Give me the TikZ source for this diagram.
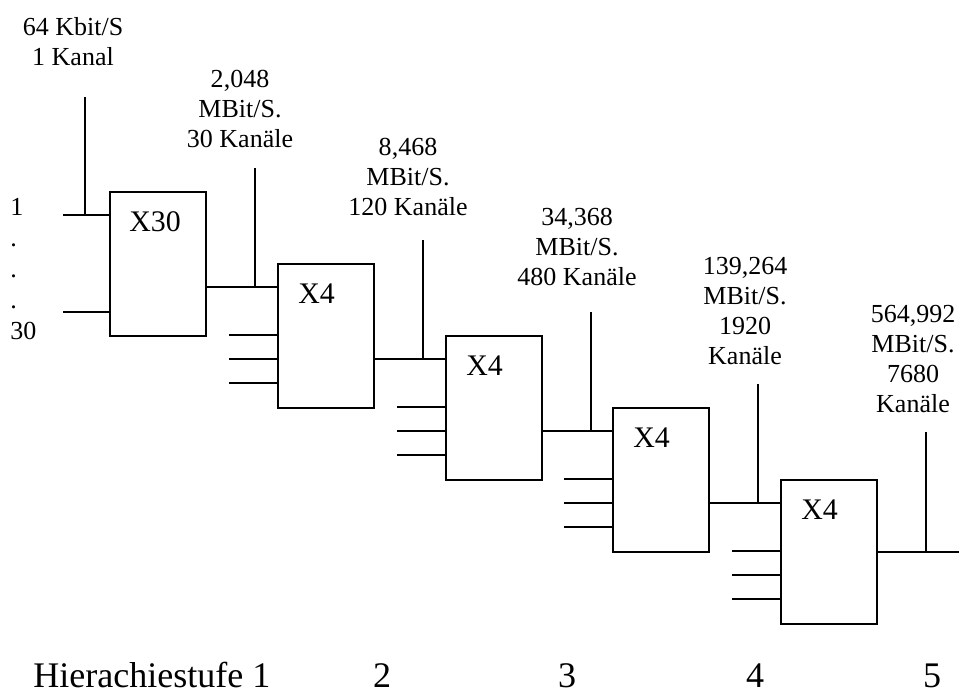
\documentclass[tikz,border=0pt]{standalone}
\usepackage{fontspec}
\setmainfont{Liberation Serif}
\usetikzlibrary{positioning}

\begin{document}
\begin{tikzpicture}[
mux/.style={draw=black,line width=1.1pt,minimum width=19.2mm,minimum height=28.8mm,inner sep=0pt},
tag/.style={inner sep=0pt,font=\fontsize{17}{20}\selectfont},
rate/.style={inner sep=0pt,align=center,anchor=north,font=\fontsize{14.8}{17.07}\selectfont},
stage/.style={inner sep=0pt,anchor=base,font=\fontsize{20.5}{24}\selectfont},
wire/.style={line width=1.1pt,draw=black}
]
\useasboundingbox (0,0) rectangle (19.18,-13.90);
% multiplexer stages
\node[mux] (m0) at (3.16,-5.28) {};
\node[mux] (m1) at (6.52,-6.72) {};
\node[mux] (m2) at (9.88,-8.16) {};
\node[mux] (m3) at (13.22,-9.60) {};
\node[mux] (m4) at (16.58,-11.04) {};
\node[tag,below right=0.40 and 0.40 of m0.north west] (x0) {X30};
\node[tag,below right=0.40 and 0.42 of m1.north west] (x1) {X4};
\node[tag,below right=0.40 and 0.42 of m2.north west] (x2) {X4};
\node[tag,below right=0.40 and 0.42 of m3.north west] (x3) {X4};
\node[tag,below right=0.40 and 0.42 of m4.north west] (x4) {X4};
% bit rates
\node[rate] (r0) at (1.46,-0.34) {64 Kbit/S\\1 Kanal};
\node[rate] (r1) at (4.80,-1.40) {2,048\\MBit/S.\\30 Kanäle};
\node[rate] (r2) at (8.16,-2.76) {8,468\\MBit/S.\\120 Kanäle};
\node[rate] (r3) at (11.54,-4.16) {34,368\\MBit/S.\\480 Kanäle};
\node[rate] (r4) at (14.90,-5.14) {139,264\\MBit/S.\\1920\\Kanäle};
\node[rate] (r5) at (18.26,-6.10) {564,992\\MBit/S.\\7680\\Kanäle};
\node[rate,anchor=north west,align=left,font=\fontsize{14.8}{17.64}\selectfont] (ch) at (0.20,-3.96) {1\\.\\.\\.\\30};
% hierarchy levels
\node[stage,anchor=base west] (st1) at (0.66,-13.74) {Hierachiestufe 1};
\node[stage] (st2) at (7.64,-13.74) {2};
\node[stage] (st3) at (11.34,-13.74) {3};
\node[stage] (st4) at (15.10,-13.74) {4};
\node[stage] (st5) at (18.64,-13.74) {5};
% inputs of the first stage
\coordinate (in1) at (1.26,-4.30);
\coordinate (in30) at (1.26,-6.24);
\draw[wire] (in1) -- (in1 -| m0.west);
\draw[wire] (in30) -- (in30 -| m0.west);
\draw[wire] ([xshift=0.44cm]in1) -- +(0,2.36);
% outputs
\coordinate (j0) at ([yshift=-1.92cm]m0.north east);
\coordinate (j1) at ([yshift=-1.92cm]m1.north east);
\coordinate (j2) at ([yshift=-1.92cm]m2.north east);
\coordinate (j3) at ([yshift=-1.92cm]m3.north east);
\coordinate (j4) at (m4.east);
\draw[wire] (j0) -- (j0 -| m1.west);
\draw[wire] (j1) -- (j1 -| m2.west);
\draw[wire] (j2) -- (j2 -| m3.west);
\draw[wire] (j3) -- (j3 -| m4.west);
\draw[wire] (j4) -- +(1.64,0);
\draw[wire] ([xshift=0.96cm]j0) -- +(0,2.38);
\draw[wire] ([xshift=0.96cm]j1) -- +(0,2.38);
\draw[wire] ([xshift=0.96cm]j2) -- +(0,2.38);
\draw[wire] ([xshift=0.96cm]j3) -- +(0,2.38);
\draw[wire] ([xshift=0.96cm]j4) -- +(0,2.40);
% further tributaries
\draw[wire] ([yshift=-1.44cm]m1.north west) -- +(-0.96,0) ([yshift=-1.92cm]m1.north west) -- +(-0.96,0) ([yshift=-2.40cm]m1.north west) -- +(-0.96,0);
\draw[wire] ([yshift=-1.44cm]m2.north west) -- +(-0.96,0) ([yshift=-1.92cm]m2.north west) -- +(-0.96,0) ([yshift=-2.40cm]m2.north west) -- +(-0.96,0);
\draw[wire] ([yshift=-1.44cm]m3.north west) -- +(-0.96,0) ([yshift=-1.92cm]m3.north west) -- +(-0.96,0) ([yshift=-2.40cm]m3.north west) -- +(-0.96,0);
\draw[wire] ([yshift=-1.44cm]m4.north west) -- +(-0.96,0) ([yshift=-1.92cm]m4.north west) -- +(-0.96,0) ([yshift=-2.40cm]m4.north west) -- +(-0.96,0);
\end{tikzpicture}
\end{document}
